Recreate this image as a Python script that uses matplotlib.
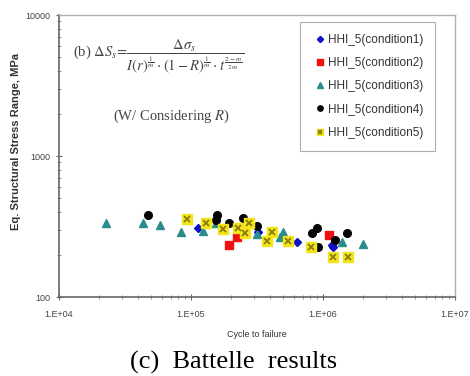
import matplotlib
matplotlib.use("Agg")
import matplotlib.pyplot as plt
from matplotlib.legend_handler import HandlerTuple
from matplotlib.ticker import FixedLocator, LogLocator, NullFormatter

# data (cycles, MPa)
c1_n = [113000, 322000, 636000, 1180000, 1190000]
c1_s = [308, 289, 245, 235, 226]

c2_n = [194000, 223000, 1110000]
c2_s = [234, 267, 275]

c3_n = [22700, 43300, 58200, 83900, 123000, 155000, 318000, 472000, 498000, 1390000, 2010000]
c3_s = [335, 335, 324, 289, 294, 335, 280, 267, 289, 245, 238]

c4_n = [47200, 157000, 155000, 194000, 248000, 316000, 826000, 902000, 917000, 1230000, 1520000]
c4_s = [381, 381, 351, 335, 363, 319, 284, 308, 226, 254, 284]

c5_n = [93300, 130000, 175000, 227000, 256000, 275000, 411000, 377000, 543000, 811000, 1190000, 1540000]
c5_s = [357, 335, 303, 308, 284, 335, 289, 249, 249, 226, 192, 192]

labels = ["HHI_5(condition1)", "HHI_5(condition2)", "HHI_5(condition3)",
          "HHI_5(condition4)", "HHI_5(condition5)"]
xticks = [1e4, 1e5, 1e6, 1e7]
xticklabels = ["1.E+04", "1.E+05", "1.E+06", "1.E+07"]
yticks = [100, 1000, 10000]
yticklabels = ["100", "1000", "10000"]

plt.rcParams['font.family'] = ['Liberation Sans', 'DejaVu Sans']
plt.rcParams['mathtext.fontset'] = 'stix'

fig = plt.figure(figsize=(4.7, 3.76), dpi=100)
ax = fig.add_axes([0.1255, 0.21, 0.8425, 0.75])

h1, = ax.plot(c1_n, c1_s, 'D', color='#1010C8', ms=4.5, ls='none')
h2, = ax.plot(c2_n, c2_s, 's', color='#F01010', ms=5.5, ls='none')
h3, = ax.plot(c3_n, c3_s, '^', color='#2A8C8C', ms=6, ls='none')
h4, = ax.plot(c4_n, c4_s, 'o', color='#050505', ms=5.5, ls='none')
h5a, = ax.plot(c5_n, c5_s, 's', color='#F2E61A', ms=7, ls='none')
h5b, = ax.plot(c5_n, c5_s, 'x', color='#8A7A10', ms=4.5, mew=1.3, ls='none')

ax.set_xscale('log')
ax.set_yscale('log')
ax.set_xlim(1e4, 1e7)
ax.set_ylim(100, 10000)

ax.xaxis.set_major_locator(FixedLocator(xticks))
ax.set_xticklabels(xticklabels)
ax.yaxis.set_major_locator(FixedLocator(yticks))
ax.set_yticklabels(yticklabels)
ax.xaxis.set_minor_locator(LogLocator(base=10, subs=range(2, 10)))
ax.yaxis.set_minor_locator(LogLocator(base=10, subs=range(2, 10)))
ax.xaxis.set_minor_formatter(NullFormatter())
ax.yaxis.set_minor_formatter(NullFormatter())

ax.tick_params(which='major', direction='inout', length=5, width=0.8,
               colors='#666666', labelcolor='#444444', labelsize=6.5)
ax.tick_params(axis='x', which='major', pad=7)
ax.tick_params(axis='y', which='major', pad=4)
ax.tick_params(which='minor', direction='inout', length=3, width=0.6, colors='#888888')
ax.tick_params(top=False, right=False)

for side in ['left', 'bottom']:
    ax.spines[side].set_color('#666666')
    ax.spines[side].set_linewidth(1.2)
for side in ['top', 'right']:
    ax.spines[side].set_color('#b0b0b0')
    ax.spines[side].set_linewidth(1.0)

ax.set_xlabel("Cycle to failure", fontsize=6.5, color='#333333', labelpad=8)
ax.set_ylabel("Eq. Structural Stress Range, MPa", fontsize=8, fontweight='bold',
              color='#333333')
ax.yaxis.set_label_coords(-0.095, 0.55)

leg = ax.legend([h1, h2, h3, h4, (h5a, h5b)], labels,
                handler_map={tuple: HandlerTuple(ndivide=1)},
                loc='upper left', bbox_to_anchor=(0.6086, 0.975), borderaxespad=0,
                fontsize=8.5, frameon=True, fancybox=False, edgecolor='#999999',
                handlelength=1.4, handletextpad=0.0, labelspacing=0.95,
                borderpad=1.0, markerscale=0.7)
leg.get_frame().set_linewidth(0.8)
for t in leg.get_texts():
    t.set_color('#333333')

ax.text(0.035, 0.85,
        r"(b) $\Delta S_s\!=\!\dfrac{\Delta\sigma_s}{I(r)^{\frac{1}{m}}\cdot(1-R)^{\frac{1}{m}}\cdot t^{\frac{2-m}{2m}}}$",
        transform=ax.transAxes, fontsize=10.5, color='#444444',
        family='Liberation Serif', va='center', ha='left')
ax.text(0.136, 0.642, r"(W/ Considering $R$)", transform=ax.transAxes,
        fontsize=10.5, color='#444444', family='Liberation Serif', va='center', ha='left')

fig.text(0.498, 0.037, "(c)  Battelle  results", ha='center', va='center',
         fontsize=19, family='Liberation Serif', color='black')

fig.savefig("out.png", dpi=100)
